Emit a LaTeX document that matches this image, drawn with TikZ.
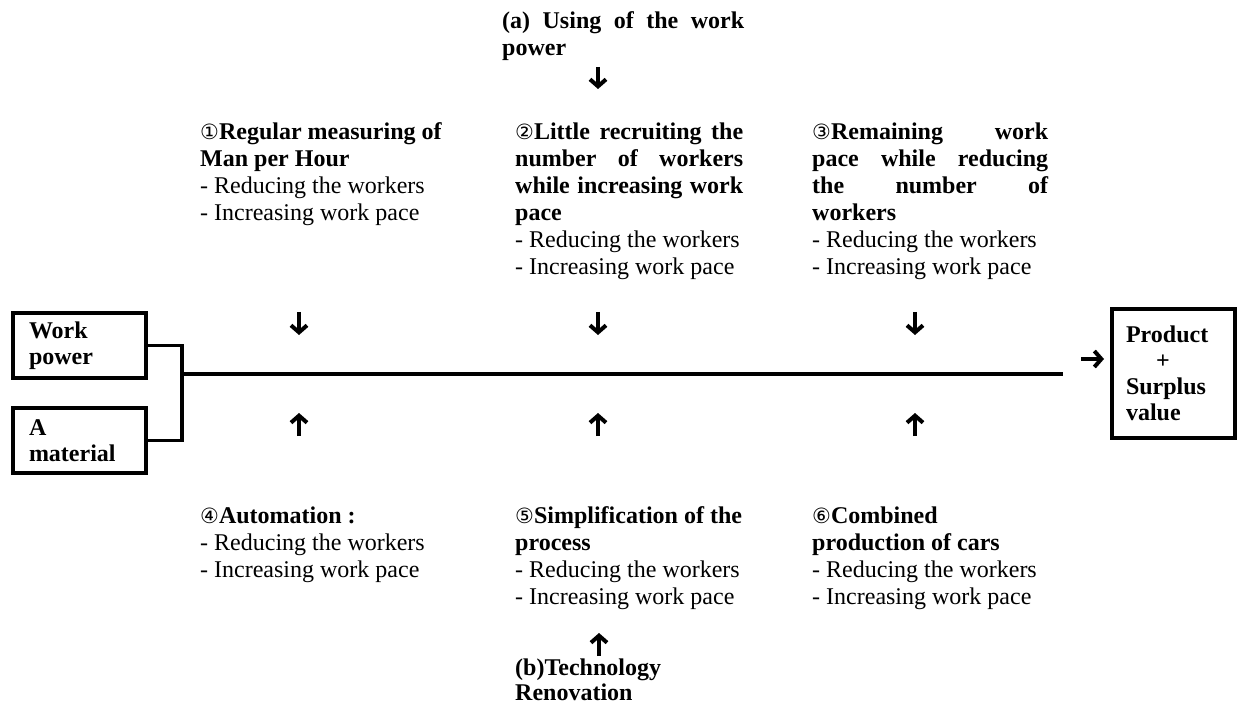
\documentclass[tikz,border=0pt]{standalone}
\usepackage{fontspec}
\setmainfont{Liberation Serif}
\newfontfamily\circfont{DejaVu Sans}
\usetikzlibrary{arrows.meta}
\newcommand\cnum[1]{{\circfont\fontsize{21}{27}\selectfont\mdseries #1}}

\begin{document}
\begin{tikzpicture}[x=1pt,y=-1pt,
  txt/.style={anchor=base west, inner sep=0pt, align=justify,
    font=\fontsize{24}{27}\selectfont},
  box/.style={draw, line width=3.2pt, rectangle, inner ysep=0pt,
    align=left, font=\bfseries\fontsize{24}{26}\selectfont},
  conn/.style={line width=3.2pt},
  garrow/.style={line width=4pt,
    -{Straight Barb[length=7pt,width=16pt]}}
]
\useasboundingbox (0,0) rectangle (1241,708);

% input and output boxes
\node[box, minimum width=133pt, minimum height=65pt, text width=101pt,
  inner xsep=16pt] (wp) at (79.5,345.5) {Work\\power};
\node[box, minimum width=133pt, minimum height=65pt, text width=101pt,
  inner xsep=16pt] (am) at (79.5,440.5) {A\\material};
\node[box, minimum width=123pt, minimum height=129pt, text width=95pt,
  inner xsep=14pt] (ps) at (1173.5,373.5)
  {Product\\\hspace*{1.25em}+\\Surplus\\value};

% joining bracket and main line
\coordinate (j) at (182,374);
\coordinate (lend) at (1063,374);
\draw[conn] (wp.east) -| (j) |- (am.east);
\draw[conn] (j) -- (lend);

% arrow into the output box
\coordinate (r1) at (1081,359);
\coordinate (r2) at (1104,359);
\draw[garrow] (r1) -- (r2);

% heading (a)
\node[txt, text width=242pt] (ta) at (502,29)
  {\textbf{(a) Using of the work\linebreak power}};
\coordinate (a1) at (598,67);
\coordinate (a2) at (598,89);
\draw[garrow] (a1) -- (a2);

% upper blocks
\node[txt, text width=250pt] (t1) at (200,140)
  {\textbf{\cnum{①}Regular measuring of\\Man per Hour}\\
   - Reducing the workers\\- Increasing work pace};
\node[txt, text width=228pt] (t2) at (515,140)
  {\textbf{\cnum{②}Little recruiting the\linebreak number of workers\linebreak
   while increasing work\linebreak pace}\\
   - Reducing the workers\\- Increasing work pace};
\node[txt, text width=236pt] (t3) at (812,140)
  {\textbf{\cnum{③}Remaining work\linebreak pace while reducing\linebreak
   the number of\linebreak workers}\\
   - Reducing the workers\\- Increasing work pace};

% arrows from the upper blocks down to the line
\coordinate (d1a) at (299,312); \coordinate (d1b) at (299,335);
\coordinate (d2a) at (598,312); \coordinate (d2b) at (598,335);
\coordinate (d3a) at (915,312); \coordinate (d3b) at (915,335);
\draw[garrow] (d1a) -- (d1b);
\draw[garrow] (d2a) -- (d2b);
\draw[garrow] (d3a) -- (d3b);

% arrows from the lower blocks up to the line
\coordinate (u1a) at (299,436); \coordinate (u1b) at (299,413);
\coordinate (u2a) at (598,436); \coordinate (u2b) at (598,413);
\coordinate (u3a) at (915,436); \coordinate (u3b) at (915,413);
\draw[garrow] (u1a) -- (u1b);
\draw[garrow] (u2a) -- (u2b);
\draw[garrow] (u3a) -- (u3b);

% lower blocks
\node[txt, text width=250pt] (t4) at (200,523)
  {\textbf{\cnum{④}Automation :}\\
   - Reducing the workers\\- Increasing work pace};
\node[txt, text width=236pt] (t5) at (515,523)
  {\textbf{\cnum{⑤}Simplification of the\\process}\\
   - Reducing the workers\\- Increasing work pace};
\node[txt, text width=236pt] (t6) at (812,523)
  {\textbf{\cnum{⑥}Combined\\production of cars}\\
   - Reducing the workers\\- Increasing work pace};

% heading (b)
\coordinate (b1) at (599,656);
\coordinate (b2) at (599,633);
\draw[garrow] (b1) -- (b2);
\node[txt, text width=236pt, font=\fontsize{24}{25}\selectfont] (tb)
  at (515,675) {\textbf{(b)Technology\\Renovation}};
\end{tikzpicture}
\end{document}
